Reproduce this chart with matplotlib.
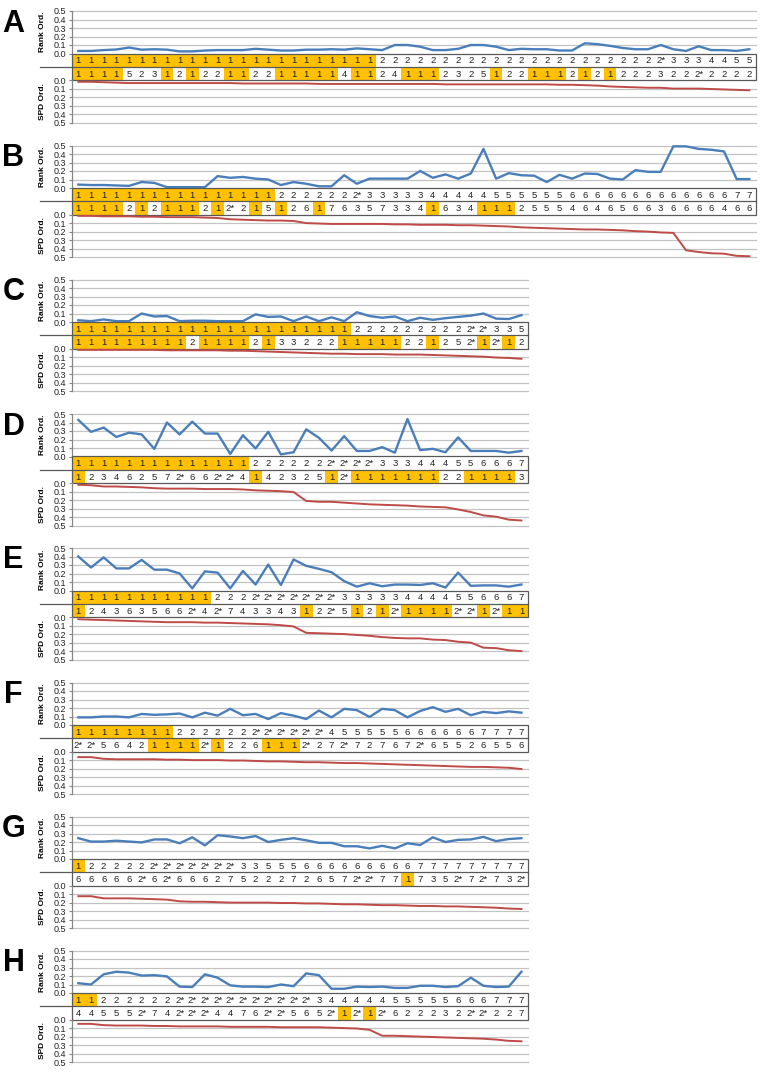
import numpy as np
import matplotlib
matplotlib.use('Agg')
import matplotlib.pyplot as plt
from matplotlib.patches import Rectangle
from matplotlib.lines import Line2D

# ---------------- data ----------------
panel_names = ["A", "B", "C", "D", "E", "F", "G", "H"]

A_top = ("1 1 1 1 1 1 1 1 1 1 1 1 1 1 1 1 1 1 1 1 1 1 1 1 "
         "2 2 2 2 2 2 2 2 2 2 2 2 2 2 2 2 2 2 2 2 2 2 2* 3 3 3 4 4 5 5").split()
A_bot = ("1 1 1 1 5 2 3 1 2 1 2 2 1 1 2 2 1 1 1 1 1 4 1 1 2 4 1 1 1 2 3 2 5 1 2 2 1 1 1 2 "
         "1 2 1 2 2 2 3 2 2 2* 2 2 2 2").split()
A_rank = [0.03, 0.03, 0.04, 0.047, 0.07, 0.045, 0.05, 0.045, 0.025, 0.025, 0.035, 0.04, 0.04,
          0.04, 0.055, 0.045, 0.035, 0.035, 0.045, 0.045, 0.05, 0.045, 0.06, 0.05, 0.04,
          0.1, 0.1, 0.08, 0.04, 0.04, 0.055, 0.1, 0.1, 0.08, 0.04, 0.055, 0.05, 0.05, 0.035,
          0.035, 0.12, 0.11, 0.09, 0.065, 0.05, 0.05, 0.1, 0.05, 0.03, 0.085, 0.04, 0.04, 0.03, 0.05]
A_spd = [0.02, 0.02, 0.025, 0.03, 0.035, 0.035, 0.035, 0.035, 0.035, 0.035, 0.035, 0.035, 0.035,
         0.04, 0.04, 0.04, 0.04, 0.04, 0.04, 0.045, 0.045, 0.045, 0.045, 0.045, 0.045, 0.045,
         0.045, 0.045, 0.045, 0.05, 0.05, 0.05, 0.05, 0.05, 0.05, 0.05, 0.05, 0.05, 0.055,
         0.055, 0.06, 0.065, 0.075, 0.08, 0.085, 0.09, 0.09, 0.1, 0.1, 0.1, 0.105, 0.11, 0.115, 0.12]

B_top = ("1 1 1 1 1 1 1 1 1 1 1 1 1 1 1 1 2 2 2 2 2 2 2* 3 3 3 3 3 4 4 4 4 4 5 5 5 5 5 5 "
         "6 6 6 6 6 6 6 6 6 6 6 6 6 7 7").split()
B_bot = ("1 1 1 1 2 1 2 1 1 1 2 1 2* 2 1 5 1 2 6 1 7 6 3 5 7 3 3 4 1 6 3 4 1 1 1 2 5 5 5 4 "
         "6 4 6 5 6 6 3 6 6 6 6 4 6 6").split()
B_rank = [0.04, 0.035, 0.035, 0.03, 0.025, 0.07, 0.06, 0.01, 0.01, 0.01, 0.01, 0.14, 0.12, 0.13,
          0.11, 0.1, 0.035, 0.07, 0.05, 0.02, 0.02, 0.15, 0.05, 0.11, 0.11, 0.11, 0.11, 0.2, 0.12,
          0.16, 0.11, 0.17, 0.46, 0.11, 0.175, 0.15, 0.145, 0.07, 0.155, 0.11, 0.17, 0.165, 0.11,
          0.1, 0.21, 0.19, 0.19, 0.49, 0.49, 0.46, 0.45, 0.43, 0.105, 0.105]
B_spd = [0.015, 0.015, 0.02, 0.02, 0.02, 0.025, 0.025, 0.03, 0.03, 0.03, 0.035, 0.04, 0.055, 0.06,
         0.065, 0.07, 0.07, 0.075, 0.1, 0.105, 0.11, 0.11, 0.11, 0.11, 0.11, 0.115, 0.115, 0.12,
         0.12, 0.12, 0.125, 0.125, 0.13, 0.135, 0.14, 0.15, 0.155, 0.16, 0.165, 0.17, 0.175,
         0.175, 0.18, 0.185, 0.195, 0.2, 0.21, 0.215, 0.42, 0.44, 0.455, 0.46, 0.485, 0.49]

C_top = ("1 1 1 1 1 1 1 1 1 1 1 1 1 1 1 1 1 1 1 1 1 1 2 2 2 2 2 2 2 2 2 2* 2* 3 3 5").split()
C_bot = ("1 1 1 1 1 1 1 1 1 2 1 1 1 1 2 1 3 3 2 2 2 1 1 1 1 1 2 2 1 2 5 2* 1 2* 1 2").split()
C_rank = [0.02, 0.01, 0.03, 0.01, 0.01, 0.1, 0.065, 0.07, 0.01, 0.015, 0.015, 0.01, 0.01, 0.01,
          0.09, 0.06, 0.065, 0.01, 0.065, 0.01, 0.055, 0.01, 0.115, 0.07, 0.05, 0.065, 0.01,
          0.05, 0.025, 0.045, 0.06, 0.075, 0.1, 0.04, 0.035, 0.08]
C_spd = [0.015, 0.015, 0.015, 0.015, 0.015, 0.015, 0.015, 0.02, 0.02, 0.02, 0.02, 0.02, 0.025,
         0.025, 0.03, 0.035, 0.04, 0.045, 0.05, 0.055, 0.06, 0.06, 0.065, 0.065, 0.065, 0.07,
         0.07, 0.07, 0.075, 0.08, 0.085, 0.09, 0.095, 0.105, 0.11, 0.12]

D_top = ("1 1 1 1 1 1 1 1 1 1 1 1 1 1 2 2 2 2 2 2 2* 2* 2* 2* 3 3 3 4 4 4 5 5 6 6 6 7").split()
D_bot = ("1 2 3 4 6 2 5 7 2* 6 6 2* 2* 4 1 4 2 3 2 5 1 2* 1 1 1 1 1 1 1 2 2 1 1 1 1 3").split()
D_rank = [0.43, 0.29, 0.34, 0.23, 0.28, 0.26, 0.09, 0.4, 0.26, 0.41, 0.27, 0.27, 0.03, 0.25,
          0.095, 0.29, 0.025, 0.05, 0.32, 0.22, 0.07, 0.24, 0.065, 0.065, 0.11, 0.045, 0.44,
          0.075, 0.09, 0.05, 0.225, 0.065, 0.065, 0.065, 0.045, 0.065]
D_spd = [0.02, 0.025, 0.04, 0.04, 0.045, 0.05, 0.06, 0.065, 0.065, 0.065, 0.07, 0.07, 0.07,
         0.075, 0.085, 0.09, 0.095, 0.105, 0.21, 0.22, 0.22, 0.23, 0.24, 0.25, 0.255, 0.26,
         0.265, 0.275, 0.28, 0.285, 0.31, 0.34, 0.38, 0.395, 0.43, 0.44]

E_top = ("1 1 1 1 1 1 1 1 1 1 1 2 2 2 2* 2* 2* 2* 2* 2* 2* 3 3 3 3 3 4 4 4 4 5 5 6 6 6 7").split()
E_bot = ("1 2 4 3 6 3 5 6 6 2* 4 2* 7 4 3 3 4 3 1 2 2* 5 1 2 1 2* 1 1 1 1 2* 2* 1 2* 1 1").split()
E_rank = [0.4, 0.27, 0.39, 0.26, 0.26, 0.36, 0.245, 0.245, 0.2, 0.025, 0.225, 0.21, 0.025, 0.23,
          0.07, 0.305, 0.065, 0.365, 0.29, 0.255, 0.215, 0.11, 0.045, 0.085, 0.05, 0.07, 0.07,
          0.065, 0.085, 0.035, 0.21, 0.055, 0.06, 0.06, 0.045, 0.07]
E_spd = [0.025, 0.03, 0.035, 0.04, 0.045, 0.05, 0.055, 0.06, 0.06, 0.06, 0.065, 0.065, 0.07,
         0.075, 0.08, 0.085, 0.095, 0.11, 0.185, 0.19, 0.195, 0.2, 0.21, 0.22, 0.235, 0.245,
         0.25, 0.25, 0.265, 0.27, 0.29, 0.3, 0.36, 0.365, 0.39, 0.4]

F_top = ("1 1 1 1 1 1 1 1 2 2 2 2 2 2 2* 2* 2* 2* 2* 2* 4 5 5 5 5 5 6 6 6 6 6 6 7 7 7 7").split()
F_bot = ("2* 2* 5 6 4 2 1 1 1 1 2* 1 2 2 6 1 1 1 2* 2 7 2* 7 2 7 6 7 2* 6 5 5 2 6 5 5 6").split()
F_rank = [0.09, 0.09, 0.1, 0.1, 0.09, 0.13, 0.12, 0.125, 0.135, 0.09, 0.145, 0.11, 0.19, 0.115,
          0.13, 0.07, 0.14, 0.11, 0.07, 0.17, 0.09, 0.19, 0.175, 0.095, 0.19, 0.175, 0.09, 0.165,
          0.21, 0.155, 0.19, 0.115, 0.155, 0.14, 0.16, 0.145]
F_spd = [0.065, 0.065, 0.085, 0.09, 0.09, 0.09, 0.09, 0.095, 0.095, 0.1, 0.1, 0.1, 0.105, 0.105,
         0.11, 0.115, 0.115, 0.12, 0.125, 0.125, 0.13, 0.135, 0.135, 0.14, 0.145, 0.15, 0.155,
         0.16, 0.165, 0.17, 0.175, 0.18, 0.18, 0.185, 0.19, 0.205]

G_top = ("1 2 2 2 2 2 2* 2* 2* 2* 2* 2* 2* 3 3 5 5 5 6 6 6 6 6 6 6 6 6 7 7 7 7 7 7 7 7 7").split()
G_bot = ("6 6 6 6 6 2* 6 2* 6 6 6 2 7 5 2 2 2 7 2 6 5 7 2* 2* 7 7 1 7 3 5 2* 7 2* 7 3 2*").split()
G_rank = [0.245, 0.205, 0.205, 0.215, 0.205, 0.195, 0.23, 0.23, 0.185, 0.255, 0.16, 0.28, 0.265,
          0.245, 0.27, 0.2, 0.225, 0.245, 0.22, 0.19, 0.19, 0.15, 0.15, 0.125, 0.155, 0.125,
          0.185, 0.165, 0.255, 0.2, 0.225, 0.23, 0.26, 0.21, 0.235, 0.245]
G_spd = [0.125, 0.125, 0.15, 0.15, 0.15, 0.155, 0.16, 0.165, 0.185, 0.19, 0.19, 0.195, 0.2, 0.2,
         0.2, 0.2, 0.205, 0.205, 0.21, 0.21, 0.215, 0.22, 0.22, 0.225, 0.23, 0.23, 0.235, 0.24,
         0.24, 0.245, 0.245, 0.25, 0.255, 0.26, 0.27, 0.275]

H_top = ("1 1 2 2 2 2 2 2 2* 2* 2* 2* 2* 2* 2* 2* 2* 2* 2* 3 4 4 4 4 4 5 5 5 5 5 6 6 6 7 7 7").split()
H_bot = ("4 4 5 5 5 2* 7 4 2* 2* 2* 4 4 7 6 2* 2* 5 6 5 2* 1 2* 1 2* 6 2 2 2 3 2 2* 2* 2 2 7").split()
H_rank = [0.115, 0.1, 0.22, 0.25, 0.24, 0.205, 0.21, 0.195, 0.075, 0.07, 0.22, 0.18, 0.09, 0.075,
          0.075, 0.07, 0.1, 0.08, 0.23, 0.21, 0.05, 0.05, 0.075, 0.07, 0.075, 0.06, 0.06, 0.085,
          0.085, 0.07, 0.08, 0.18, 0.085, 0.07, 0.075, 0.25]
H_spd = [0.05, 0.05, 0.065, 0.07, 0.07, 0.07, 0.075, 0.075, 0.08, 0.08, 0.08, 0.08, 0.085, 0.085,
         0.085, 0.085, 0.09, 0.09, 0.09, 0.09, 0.095, 0.1, 0.105, 0.12, 0.19, 0.19, 0.195, 0.2,
         0.205, 0.21, 0.215, 0.22, 0.225, 0.235, 0.25, 0.255]

tick_vals = [0.0, 0.1, 0.2, 0.3, 0.4, 0.5]
tick_labels = ["0.0", "0.1", "0.2", "0.3", "0.4", "0.5"]

panels = [
    (A_top, A_bot, A_rank, A_spd), (B_top, B_bot, B_rank, B_spd),
    (C_top, C_bot, C_rank, C_spd), (D_top, D_bot, D_rank, D_spd),
    (E_top, E_bot, E_rank, E_spd), (F_top, F_bot, F_rank, F_spd),
    (G_top, G_bot, G_rank, G_spd), (H_top, H_bot, H_rank, H_spd),
]
for p in panels:
    n = len(p[0])
    assert all(len(s) == n for s in p), [len(s) for s in p]

# ---------------- layout ----------------
W, H = 762, 1072
plt.rcParams['font.family'] = ['Liberation Sans', 'DejaVu Sans']
fig = plt.figure(figsize=(W / 100, H / 100), dpi=100)

BLUE = '#4A7EBB'
RED = '#BE4B48'
YEL = '#FFC000'
GRID = '#C3C3C3'
AXC = '#868686'
BOX = '#595959'

LEFT = 72.0
CELL = 12.66
RANK_H = 42.5
ROW_H = 13.3
SPD_H = 42.5
tops = [11, 145.5, 279.5, 414, 548, 682.5, 816.5, 950.5]


def rect(x0, y0, x1, y1):
    return [x0 / W, 1 - y1 / H, (x1 - x0) / W, (y1 - y0) / H]


def style_axis(ax, n, invert):
    ax.set_xlim(0, n)
    if invert:
        ax.set_ylim(0.5, 0.0)
    else:
        ax.set_ylim(0.0, 0.5)
    ax.patch.set_alpha(0)
    for s in ['top', 'right', 'bottom']:
        ax.spines[s].set_visible(False)
    ax.spines['left'].set_color(AXC)
    ax.spines['left'].set_linewidth(0.9)
    ax.set_xticks([])
    ax.set_yticks(tick_vals)
    ax.set_yticklabels(tick_labels)
    ax.tick_params(axis='y', direction='out', length=2.3, width=0.8, color=AXC,
                   labelsize=6.5, pad=2.0, labelcolor='#222222')
    for v in tick_vals[1:]:
        ax.axhline(v, color=GRID, lw=0.9, clip_on=False, zorder=1)


for k, (top_lab, bot_lab, rank_v, spd_v) in enumerate(panels):
    n = len(top_lab)
    t = tops[k]
    R = LEFT + n * CELL
    x = np.arange(n) + 0.5

    # rank ordering axis
    ax1 = fig.add_axes(rect(LEFT, t, R, t + RANK_H))
    style_axis(ax1, n, False)
    ax1.plot(x, rank_v, color=BLUE, lw=1.7, clip_on=False, zorder=3)

    # label rows
    ty0 = t + RANK_H
    ax2 = fig.add_axes(rect(LEFT, ty0, R, ty0 + 2 * ROW_H))
    ax2.set_xlim(0, n)
    ax2.set_ylim(0, 2)
    ax2.axis('off')
    for row_y, labs in ((1, top_lab), (0, bot_lab)):
        for i, lab in enumerate(labs):
            if lab == '1':
                ax2.add_patch(Rectangle((i, row_y), 1, 1, facecolor=YEL, edgecolor='none', zorder=1))
            ax2.text(i + 0.5, row_y + 0.45, lab, ha='center', va='center', fontsize=6.8,
                     color='#222222', zorder=3)
    ax2.add_patch(Rectangle((0, 0), n, 2, fill=False, edgecolor=BOX, lw=0.9, clip_on=False, zorder=4))
    ymid = 1 - (ty0 + ROW_H) / H
    fig.add_artist(Line2D([40 / W, R / W], [ymid, ymid], color=BOX, lw=0.9))

    # SPD ordering axis
    sy0 = ty0 + 2 * ROW_H
    ax3 = fig.add_axes(rect(LEFT, sy0, R, sy0 + SPD_H))
    style_axis(ax3, n, True)
    ax3.plot(x, spd_v, color=RED, lw=1.4, clip_on=False, zorder=3)

    # axis titles and panel letter
    fig.text(43 / W, 1 - (t + RANK_H / 2) / H, 'Rank Ord.', rotation=90, ha='center',
             va='center', fontsize=6.0, fontweight='bold')
    fig.text(43 / W, 1 - (sy0 + SPD_H / 2) / H, 'SPD Ord.', rotation=90, ha='center',
             va='center', fontsize=6.0, fontweight='bold')
    fig.text(13.5 / W, 1 - (t + 12.5) / H, panel_names[k], ha='center', va='center',
             fontsize=22, fontweight='bold')

fig.savefig('out.png', dpi=100)
